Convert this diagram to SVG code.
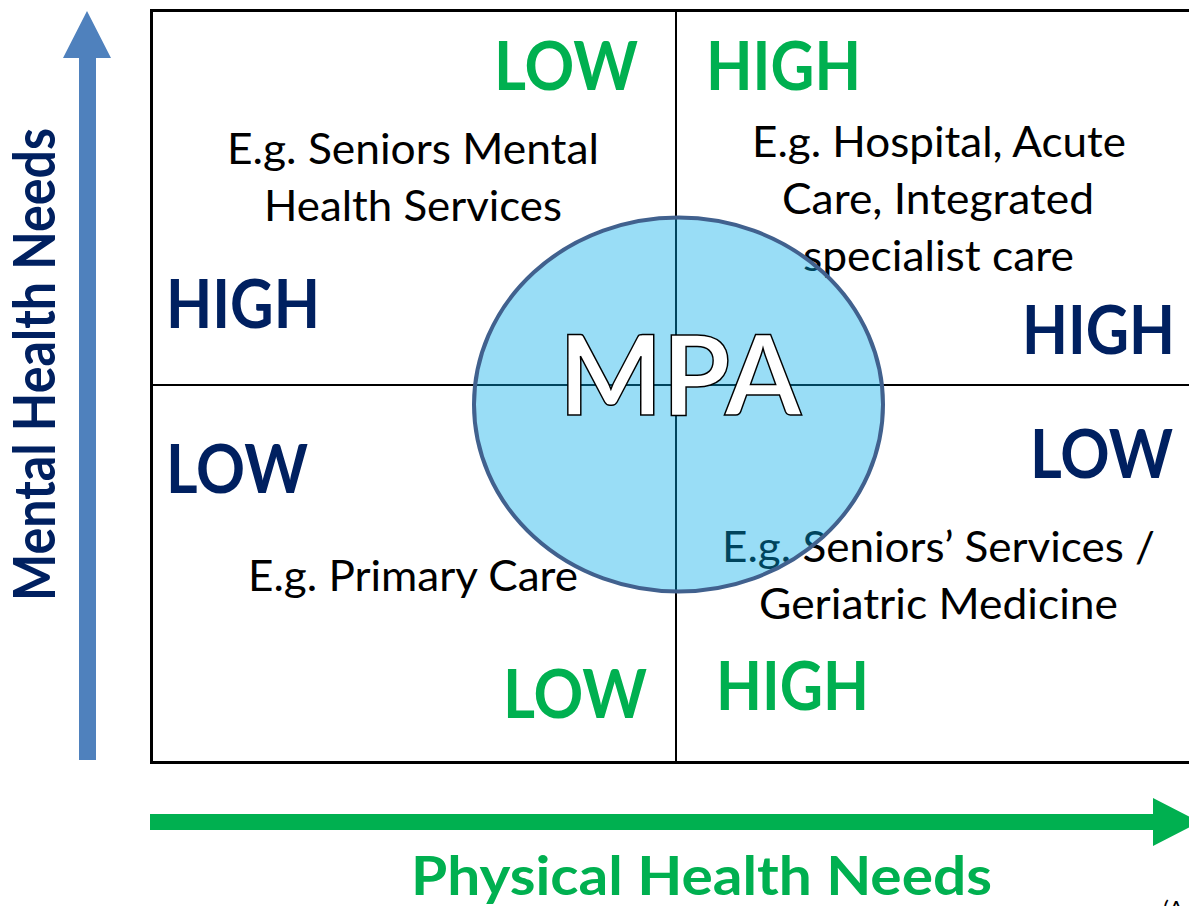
<svg xmlns="http://www.w3.org/2000/svg" width="1189" height="906" viewBox="0 0 1189 906">
  <style>
    .lvl { font-family: Lato, "Open Sans", "Liberation Sans", sans-serif; font-weight: 700; font-size: 66px; }
    .green { fill: #00B050; }
    .navy { fill: #002060; }
    .eg { font-family: Lato, "Open Sans", "Liberation Sans", sans-serif; font-size: 43px; fill: #000000; }
    .axis { font-family: Lato, "Open Sans", "Liberation Sans", sans-serif; font-weight: 700; }
    .grid { stroke: #000000; fill: none; }
  </style>
  <rect width="1189" height="906" fill="#ffffff"/>

  <!-- axis arrows -->
  <g id="connectors">
    <polygon id="y-arrow" fill="#4F81BD" points="87,11 111,58 96,58 96,760 79,760 79,58 63,58"/>
    <polygon id="x-arrow" fill="#00B050" points="150,814 1153,814 1153,798 1200,822 1153,846 1153,830 150,830"/>
  </g>

  <!-- quadrant grid -->
  <g id="grid">
    <path class="grid" stroke-width="3" d="M1195,10.5 H151.5 V762.5 H1195"/>
    <line class="grid" stroke-width="2" x1="676" y1="10" x2="676" y2="762"/>
    <line class="grid" stroke-width="2" x1="151" y1="385" x2="1195" y2="385"/>
  </g>

  <!-- top-left quadrant -->
  <g id="q-top-left">
    <text class="lvl green" x="494" y="90" textLength="144" lengthAdjust="spacingAndGlyphs">LOW</text>
    <text class="eg" x="227" y="164" textLength="372" lengthAdjust="spacingAndGlyphs">E.g. Seniors Mental</text>
    <text class="eg" x="264" y="221" textLength="298" lengthAdjust="spacingAndGlyphs">Health Services</text>
    <text class="lvl navy" x="166" y="328" textLength="154" lengthAdjust="spacingAndGlyphs">HIGH</text>
  </g>

  <!-- top-right quadrant -->
  <g id="q-top-right">
    <text class="lvl green" x="706" y="90" textLength="155" lengthAdjust="spacingAndGlyphs">HIGH</text>
    <text class="eg" x="752" y="157" textLength="374" lengthAdjust="spacingAndGlyphs">E.g. Hospital, Acute</text>
    <text class="eg" x="782" y="214" textLength="312" lengthAdjust="spacingAndGlyphs">Care, Integrated</text>
    <text class="eg" x="803" y="271" textLength="271" lengthAdjust="spacingAndGlyphs">specialist care</text>
    <text class="lvl navy" x="1022" y="354" textLength="153" lengthAdjust="spacingAndGlyphs">HIGH</text>
  </g>

  <!-- bottom-left quadrant -->
  <g id="q-bottom-left">
    <text class="lvl navy" x="166" y="493" textLength="142" lengthAdjust="spacingAndGlyphs">LOW</text>
    <text class="eg" x="248" y="591" textLength="330" lengthAdjust="spacingAndGlyphs">E.g. Primary Care</text>
    <text class="lvl green" x="503" y="718" textLength="144" lengthAdjust="spacingAndGlyphs">LOW</text>
  </g>

  <!-- bottom-right quadrant -->
  <g id="q-bottom-right">
    <text class="lvl navy" x="1030" y="478" textLength="143" lengthAdjust="spacingAndGlyphs">LOW</text>
    <text class="eg" x="722" y="562" textLength="433" lengthAdjust="spacingAndGlyphs">E.g. Seniors’ Services /</text>
    <text class="eg" x="759" y="619" textLength="359" lengthAdjust="spacingAndGlyphs">Geriatric Medicine</text>
    <text class="lvl green" x="716" y="710" textLength="153" lengthAdjust="spacingAndGlyphs">HIGH</text>
  </g>

  <!-- central overlap ellipse -->
  <g id="mpa">
    <ellipse cx="678.5" cy="404.5" rx="204.5" ry="187" fill="#00AAE8" fill-opacity="0.4" stroke="#41618E" stroke-width="4"/>
    <text x="559" y="415" textLength="242" lengthAdjust="spacingAndGlyphs" font-family="Lato, 'Open Sans', 'Liberation Sans', sans-serif" font-weight="700" font-size="112" fill="#ffffff" stroke="#000000" stroke-width="1.5">MPA</text>
  </g>

  <!-- axis titles -->
  <g id="axis-labels">
    <text class="axis navy" font-size="58" transform="translate(55,601) rotate(-90)" x="0" y="0" textLength="473" lengthAdjust="spacingAndGlyphs">Mental Health Needs</text>
    <text class="axis green" font-size="54" x="411" y="895" textLength="581" lengthAdjust="spacingAndGlyphs">Physical Health Needs</text>
    <text font-family="Lato, 'Open Sans', 'Liberation Sans', sans-serif" font-size="22" fill="#000000" x="1163" y="916">(A</text>
  </g>
</svg>
